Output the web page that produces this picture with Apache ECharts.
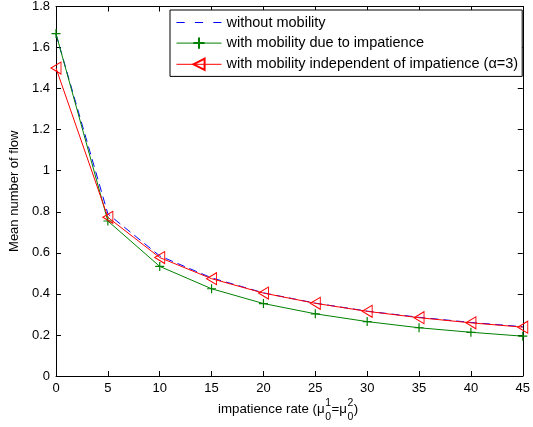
<!DOCTYPE html>
<html><head><meta charset="utf-8">
<script src="https://cdn.jsdelivr.net/npm/echarts@6/dist/echarts.min.js"></script>
<style>html,body{margin:0;padding:0;background:#fff}#c{width:533px;height:427px}</style>
</head><body><div id="c"></div>
<script>
var rates = [0, 5, 10, 15, 20, 25, 30, 35, 40, 45];
var withoutMobility = [1.665, 0.79, 0.585, 0.478, 0.405, 0.355, 0.316, 0.286, 0.261, 0.240];
var mobilityImpatience = [1.668, 0.755, 0.534, 0.425, 0.353, 0.303, 0.265, 0.235, 0.213, 0.194];
var mobilityIndependent = [1.50, 0.773, 0.577, 0.474, 0.404, 0.354, 0.315, 0.284, 0.259, 0.238];
var seriesNames = ['without mobility', 'with mobility due to impatience', 'with mobility independent of impatience (\u03b1=3)'];
var xTitleParts = [['impatience rate (\u03bc', 'n'], ['1', 'sup', '0'], ['=\u03bc', 'n'], ['2', 'sup', '0'], [')', 'n']];

function pairs(v){ return rates.map(function(x,i){ return [x, v[i]]; }); }
var font = 'Liberation Sans, Arial, sans-serif';
var chart = echarts.init(document.getElementById('c'), null, {renderer:'canvas'});
function axisCommon(){ return {
  axisLine:{show:true, onZero:false, lineStyle:{color:'#000', width:1}},
  axisTick:{show:true, inside:true, length:5, lineStyle:{color:'#000'}},
  splitLine:{show:false}
};}

// build x-axis title pieces (stacked sub/superscripts)
var cv = document.createElement('canvas').getContext('2d');
function w(t, s){ cv.font = s + 'px "Liberation Sans"'; return cv.measureText(t).width; }
var pieces = [], cx = 0;
xTitleParts.forEach(function(p){
  if (p[1] === 'n') {
    pieces.push({type:'text', x:cx, y:0, style:{text:p[0], font:'13.3px "Liberation Sans"', fill:'#000', textVerticalAlign:'middle'}});
    cx += w(p[0], 13.3);
  } else {
    pieces.push({type:'text', x:cx+0.5, y:-6, style:{text:p[0], font:'10.5px "Liberation Sans"', fill:'#000', textVerticalAlign:'middle'}});
    pieces.push({type:'text', x:cx+0.5, y:8, style:{text:p[2], font:'10.5px "Liberation Sans"', fill:'#000', textVerticalAlign:'middle'}});
    cx += Math.max(w(p[0],10.5), w(p[2],10.5)) + 1;
  }
});

chart.setOption({
  animation:false,
  textStyle:{fontFamily:font},
  grid:{left:56, right:8, top:5, bottom:51, containLabel:false},
  xAxis:[
    Object.assign({type:'value', min:0, max:45, interval:5, position:'bottom',
      axisLabel:{color:'#000', fontSize:13, margin:6, fontFamily:font}}, axisCommon()),
    Object.assign({type:'value', min:0, max:45, interval:5, position:'top',
      axisLabel:{show:false}}, axisCommon())
  ],
  yAxis:[
    Object.assign({type:'value', min:0, max:1.8, interval:0.2, position:'left',
      name:'Mean number of flow', nameLocation:'middle', nameGap:30,
      nameTextStyle:{color:'#000', fontSize:13, fontFamily:font},
      axisLabel:{color:'#000', fontSize:13, margin:6, fontFamily:font}}, axisCommon()),
    Object.assign({type:'value', min:0, max:1.8, interval:0.2, position:'right',
      axisLabel:{show:false}}, axisCommon())
  ],
  legend:{
    orient:'vertical', left:170, top:10, itemWidth:45, itemHeight:14, itemGap:5,
    padding:[5,4,4,6], borderColor:'#000', borderWidth:1, backgroundColor:'#fff',
    textStyle:{color:'#000', fontSize:14.5, fontFamily:font},
    lineStyle:{width:1},
    data:[
      {name:seriesNames[0], icon:'path://M0,0 L8,0 L8,1 L0,1 Z M18,0 L26,0 L26,1 L18,1 Z M36,0 L44,0 L44,1 L36,1 Z', itemStyle:{color:'#0000ff'}},
      {name:seriesNames[1]},
      {name:seriesNames[2]}
    ]
  },
  series:[
    {name:seriesNames[0], type:'line', data:pairs(withoutMobility), symbol:'none',
     lineStyle:{color:'#0000ff', width:1, type:[8,5]}, itemStyle:{color:'#0000ff'}, z:1},
    {name:seriesNames[1], type:'line', data:pairs(mobilityImpatience),
     symbol:'path://M5,0 L5,10 M0,5 L10,5', symbolSize:9,
     lineStyle:{color:'#008000', width:1},
     itemStyle:{color:'none', borderColor:'#008000', borderWidth:1.2}, z:2},
    {name:seriesNames[2], type:'line', data:pairs(mobilityIndependent),
     symbol:'path://M0,5 L9,0 L9,10 Z', symbolSize:[10,12],
     lineStyle:{color:'#ff0000', width:1},
     itemStyle:{color:'none', borderColor:'#ff0000', borderWidth:1}, z:3}
  ],
  graphic:[
    {type:'group', left:218, top:398, children:pieces}
  ]
});
</script></body></html>
